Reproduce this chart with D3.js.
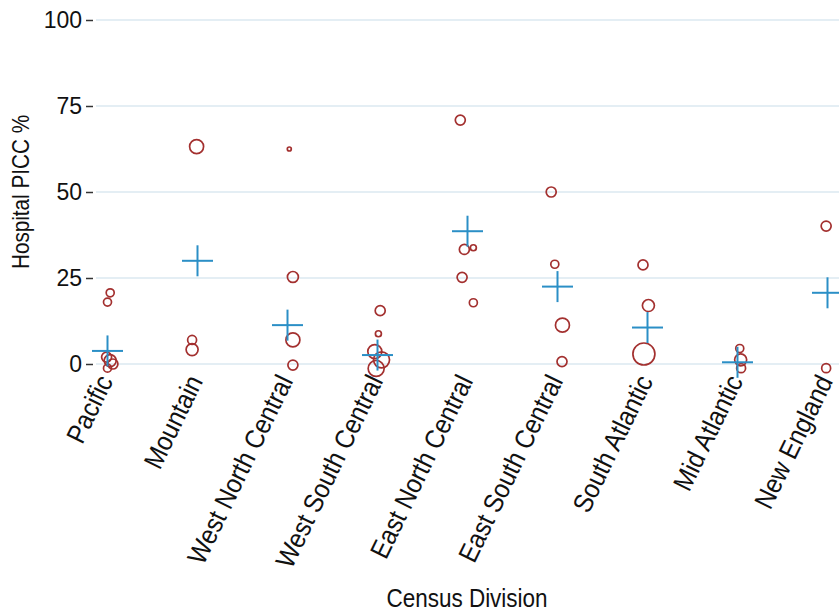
<!DOCTYPE html>
<html><head><meta charset="utf-8">
<script src="https://cdn.jsdelivr.net/npm/d3@7/dist/d3.min.js"></script>
<style>
html,body{margin:0;padding:0;background:#fff;}
svg{display:block;font-family:"Liberation Sans",Arial,sans-serif;}
</style></head>
<body>
<svg id="chart" width="839" height="613"></svg>
<script>
const divisions = ["Pacific","Mountain","West North Central","West South Central","East North Central","East South Central","South Atlantic","Mid Atlantic","New England"];
const divisionMeans = [3.8, 30.0, 11.3, 2.6, 38.6, 22.5, 10.6, 0.5, 20.7];
// individual hospitals
const hospDivision = [0,0,0,0,0,0, 1,1,1, 2,2,2,2, 3,3,3,3,3, 4,4,4,4,4, 5,5,5,5, 6,6,6, 7,7,7, 8,8];
const hospPICC     = [20.7,18.0,2.0,1.0,0.0,-1.2, 63.2,7.0,4.2, 62.5,25.3,7.0,-0.3, 15.5,8.8,3.6,1.2,-1.3, 70.9,33.3,33.8,25.2,17.8, 50.0,29.0,11.3,0.7, 28.8,17.0,2.9, 4.5,1.2,-1.2, 40.1,-1.2];
const hospSize     = [16,16,25,36,25,16, 49,20,36, 4,30,49,25, 25,9,49,64,64, 25,25,9,25,16, 25,16,49,25, 25,36,121, 16,36,20, 25,20];
const hospJitter   = [0.03,0.0,-0.01,0.03,0.06,0.0, -0.01,-0.06,-0.06, 0.02,0.06,0.06,0.06, 0.03,0.01,-0.03,0.045,-0.015, -0.08,-0.035,0.065,-0.06,0.065, -0.07,-0.03,0.055,0.05, -0.05,0.01,-0.04, 0.025,0.035,0.04, -0.015,-0.015];
const yTicks = [0,25,50,75,100];

const svg = d3.select("#chart");
const x = d3.scalePoint().domain(divisions).range([107.5, 827.5]);
const y = d3.scaleLinear().domain([0,100]).range([364,20]);
const r = d3.scaleSqrt().domain([0,121]).range([0,11]);
const plotLeft = 96, plotRight = 839;
const FONT = "Liberation Sans, Arial, sans-serif";
const sx = 0.9;

// gridlines
svg.append("g").selectAll("line").data(yTicks).join("line")
  .attr("x1", plotLeft).attr("x2", plotRight)
  .attr("y1", d=>y(d)).attr("y2", d=>y(d))
  .attr("stroke", "#e4eef4").attr("stroke-width", 2);

// y axis
const yAxis = svg.append("g").attr("transform", "translate(93,0)")
  .call(d3.axisLeft(y).tickValues(yTicks).tickSize(7).tickPadding(4));
yAxis.select(".domain").remove();
yAxis.selectAll(".tick line").attr("stroke", "#333").attr("stroke-width", 1.5);
yAxis.selectAll(".tick text").attr("font-size", 23).attr("fill", "#111").attr("font-family", FONT);

svg.append("text").attr("transform", `translate(29,192) rotate(-90) scale(${sx},1)`)
  .attr("text-anchor", "middle").attr("font-size", 23).attr("fill", "#111")
  .attr("font-family", FONT)
  .text("Hospital PICC %");

// x labels
svg.append("g").selectAll("text").data(divisions).join("text")
  .attr("transform", d=>`translate(${x(d)+6},${381}) rotate(-64) scale(${sx},1)`)
  .attr("text-anchor", "end").attr("font-size", 27).attr("fill", "#111")
  .attr("font-family", FONT)
  .text(d=>d);

svg.append("text").attr("transform", `translate(467,607) scale(${sx},1)`).attr("text-anchor", "middle")
  .attr("font-size", 25).attr("fill", "#111").attr("font-family", FONT).text("Census Division");

// hospitals
const step = x.step();
svg.append("g").selectAll("circle").data(hospPICC).join("circle")
  .attr("cx", (d,i)=>x(divisions[hospDivision[i]]) + hospJitter[i]*step)
  .attr("cy", d=>y(d))
  .attr("r", (d,i)=>r(hospSize[i]))
  .attr("fill", "none").attr("stroke", "#a3302f").attr("stroke-width", 1.7);

// means as crosses
const half = 15.5;
const g = svg.append("g").attr("stroke", "#2b8fc6").attr("stroke-width", 2);
divisions.forEach((d,i)=>{
  const cx = x(d), cy = y(divisionMeans[i]);
  g.append("line").attr("x1", cx-half).attr("x2", cx+half).attr("y1", cy).attr("y2", cy);
  g.append("line").attr("x1", cx).attr("x2", cx).attr("y1", cy-half).attr("y2", cy+half);
});
</script>
</body></html>
